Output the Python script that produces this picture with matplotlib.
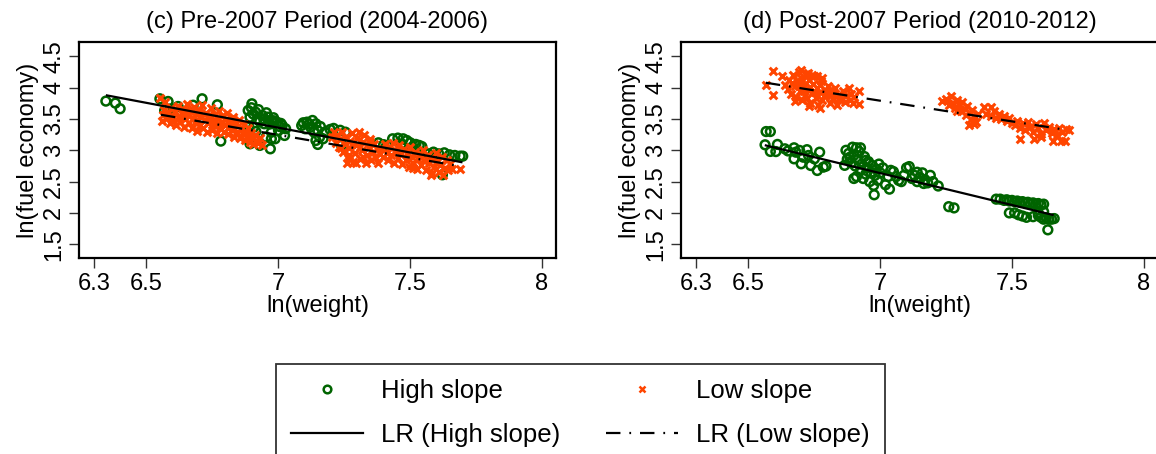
import matplotlib
matplotlib.use('Agg')
import matplotlib.pyplot as plt
from matplotlib.lines import Line2D

plt.rcParams['font.family'] = ['Liberation Sans', 'DejaVu Sans']

GREEN = '#006400'
ORANGE = '#FF4500'

# ---------------- data ----------------
x_ticks = [6.3, 6.5, 7, 7.5, 8]
x_tick_labels = ['6.3', '6.5', '7', '7.5', '8']
y_ticks = [1.5, 2, 2.5, 3, 3.5, 4, 4.5]
y_tick_labels = ['1.5', '2', '2.5', '3', '3.5', '4', '4.5']

titles = ['(c) Pre-2007 Period (2004-2006)', '(d) Post-2007 Period (2010-2012)']
x_label = 'ln(weight)'
y_label = 'ln(fuel economy)'
legend_labels = ['High slope', 'LR (High slope)', 'Low slope', 'LR (Low slope)']

# Pre-2007, high slope (green circles)
pre_high = [
    (6.346, 3.786), (6.382, 3.754), (6.400, 3.664),
    (6.551, 3.823), (6.582, 3.780), (6.569, 3.637), (6.590, 3.660), (6.620, 3.700),
    (6.677, 3.720), (6.711, 3.823), (6.769, 3.727), (6.782, 3.147),
    (6.900, 3.743), (6.886, 3.637), (6.914, 3.610), (6.893, 3.530), (6.920, 3.500),
    (6.940, 3.557), (6.961, 3.530), (6.974, 3.477), (6.995, 3.450), (7.015, 3.397),
    (7.028, 3.344), (6.947, 3.424), (6.907, 3.370), (6.889, 3.370), (6.930, 3.460),
    (6.955, 3.600), (6.905, 3.580), (6.982, 3.520), (6.968, 3.420), (7.005, 3.380),
    (6.974, 3.290), (7.001, 3.317), (7.024, 3.237), (6.988, 3.184), (6.974, 3.184),
    (6.893, 3.104), (6.930, 3.078), (6.970, 3.024), (6.954, 3.210), (6.915, 3.300),
    (6.898, 3.680), (6.925, 3.650), (6.945, 3.500), (6.985, 3.470), (7.010, 3.430),
    (7.089, 3.397), (7.109, 3.450), (7.130, 3.477), (7.143, 3.424), (7.123, 3.370),
    (7.103, 3.344), (7.150, 3.317), (7.136, 3.290), (7.157, 3.210), (7.143, 3.157),
    (7.150, 3.094), (7.170, 3.184), (7.197, 3.333), (7.177, 3.290), (7.118, 3.420),
    (7.095, 3.440), (7.160, 3.380),
    (7.210, 3.350), (7.235, 3.320), (7.255, 3.290), (7.240, 3.080), (7.262, 3.100),
    (7.380, 3.120), (7.400, 3.090), (7.414, 3.078),
    (7.434, 3.184), (7.454, 3.195), (7.474, 3.184), (7.488, 3.157), (7.501, 3.120),
    (7.522, 3.094), (7.535, 3.078), (7.468, 3.104), (7.447, 3.078), (7.508, 3.050),
    (7.545, 3.060),
    (7.570, 2.944), (7.589, 2.971), (7.609, 2.944), (7.630, 2.960), (7.650, 2.928),
    (7.670, 2.918), (7.690, 2.907), (7.700, 2.907), (7.623, 2.609),
]

# Pre-2007, low slope (orange crosses)
pre_low = [
    (6.552, 3.84), (6.558, 3.47), (6.563, 3.56), (6.567, 3.64), (6.571, 3.77), (6.578, 3.51),
    (6.583, 3.60), (6.589, 3.43), (6.594, 3.68), (6.598, 3.55), (6.604, 3.47), (6.609, 3.62),
    (6.613, 3.40), (6.618, 3.71), (6.624, 3.53), (6.629, 3.45), (6.633, 3.59), (6.638, 3.66),
    (6.642, 3.38), (6.647, 3.50), (6.652, 3.74), (6.657, 3.57), (6.661, 3.43), (6.666, 3.63),
    (6.671, 3.35), (6.675, 3.52), (6.680, 3.69), (6.684, 3.46), (6.689, 3.58), (6.693, 3.31),
    (6.698, 3.64), (6.703, 3.41), (6.707, 3.53), (6.712, 3.72), (6.716, 3.36), (6.721, 3.49),
    (6.725, 3.60), (6.730, 3.29), (6.734, 3.44), (6.739, 3.56), (6.743, 3.67), (6.748, 3.33),
    (6.752, 3.48), (6.757, 3.40), (6.761, 3.58), (6.766, 3.27), (6.770, 3.52), (6.775, 3.63),
    (6.779, 3.36), (6.784, 3.45), (6.788, 3.55), (6.793, 3.30), (6.797, 3.41), (6.802, 3.50),
    (6.806, 3.59), (6.811, 3.26), (6.815, 3.38), (6.820, 3.47), (6.824, 3.33), (6.829, 3.54),
    (6.833, 3.22), (6.838, 3.43), (6.842, 3.30), (6.847, 3.39), (6.851, 3.49), (6.856, 3.19),
    (6.860, 3.34), (6.865, 3.26), (6.869, 3.42), (6.874, 3.16), (6.878, 3.30), (6.883, 3.22),
    (6.887, 3.36), (6.892, 3.13), (6.896, 3.27), (6.901, 3.19), (6.905, 3.10), (6.912, 3.24),
    (6.918, 3.15), (6.925, 3.11), (6.932, 3.20), (6.938, 3.09),
    (6.600, 3.52), (6.645, 3.56), (6.690, 3.49), (6.735, 3.51), (6.780, 3.41), (6.825, 3.38),
    (6.700, 3.59), (6.760, 3.46), (6.810, 3.44), (6.655, 3.65),
    (7.205, 3.22), (7.212, 3.30), (7.218, 3.12), (7.224, 3.25), (7.230, 3.05), (7.236, 3.18),
    (7.241, 3.29), (7.247, 2.97), (7.252, 3.10), (7.258, 3.22), (7.263, 2.88), (7.268, 3.03),
    (7.274, 3.15), (7.279, 3.27), (7.284, 2.82), (7.290, 2.95), (7.295, 3.08), (7.300, 3.20),
    (7.305, 3.30), (7.311, 2.86), (7.316, 3.00), (7.321, 3.13), (7.327, 3.24), (7.332, 2.80),
    (7.337, 2.93), (7.343, 3.06), (7.348, 3.18), (7.353, 2.84), (7.359, 2.98), (7.364, 3.10),
    (7.369, 2.89), (7.375, 3.02), (7.380, 2.79), (7.386, 2.94), (7.262, 2.79), (7.296, 2.80),
    (7.240, 3.04), (7.280, 3.10), (7.320, 2.90), (7.350, 3.14), (7.270, 2.92), (7.310, 3.05),
    (7.392, 3.02), (7.398, 2.90), (7.405, 3.10), (7.411, 2.96), (7.417, 2.84), (7.423, 3.05),
    (7.429, 2.92), (7.435, 3.12), (7.441, 2.80), (7.447, 2.99), (7.453, 2.87), (7.459, 3.08),
    (7.465, 2.94), (7.471, 2.78), (7.477, 3.02), (7.483, 2.85), (7.489, 2.96), (7.495, 2.73),
    (7.501, 3.05), (7.507, 2.89), (7.513, 2.80), (7.519, 2.98), (7.525, 2.70), (7.531, 2.86),
    (7.537, 2.94), (7.543, 2.76), (7.549, 3.00), (7.555, 2.83), (7.561, 2.68), (7.567, 2.92),
    (7.573, 2.79), (7.579, 2.88), (7.585, 2.64), (7.591, 2.74), (7.597, 2.95), (7.603, 2.83),
    (7.609, 2.66), (7.615, 2.77), (7.621, 2.90), (7.627, 2.61), (7.633, 2.72), (7.639, 2.84),
    (7.645, 2.68), (7.651, 2.78), (7.510, 2.715), (7.578, 2.60), (7.661, 2.694), (7.688, 2.694),
]

# Post-2007, high slope (green circles)
post_high = [
    (6.567, 3.30), (6.583, 3.30),
    (6.563, 3.088), (6.583, 2.982), (6.610, 3.094), (6.604, 2.980), (6.638, 3.024),
    (6.673, 3.040), (6.680, 2.970), (6.673, 2.864), (6.700, 2.785), (6.722, 3.010),
    (6.728, 2.918), (6.750, 2.864), (6.770, 2.970), (6.761, 2.678), (6.784, 2.731),
    (6.794, 2.747), (6.736, 2.758), (6.708, 2.890), (6.694, 2.998), (6.650, 2.990),
    (6.870, 3.000), (6.880, 2.950), (6.875, 2.860), (6.890, 2.800), (6.895, 3.050),
    (6.900, 2.920), (6.905, 2.750), (6.910, 2.580), (6.915, 2.850), (6.920, 2.980),
    (6.925, 2.680), (6.930, 2.780), (6.935, 2.550), (6.940, 2.900), (6.945, 2.620),
    (6.950, 2.720), (6.955, 2.820), (6.960, 2.500), (6.965, 2.650), (6.970, 2.760),
    (6.975, 2.440), (6.980, 2.600), (6.985, 2.700), (6.990, 2.520), (6.995, 2.780),
    (7.000, 2.640), (7.010, 2.720), (7.020, 2.450), (7.030, 2.580), (7.035, 2.380),
    (7.040, 2.680), (6.977, 2.290), (6.900, 2.550), (6.865, 2.760), (6.910, 3.040),
    (6.925, 3.040), (6.885, 2.890), (6.945, 2.840),
    (7.050, 2.660), (7.060, 2.580), (7.070, 2.520), (7.090, 2.600), (7.100, 2.720),
    (7.110, 2.740), (7.120, 2.550), (7.130, 2.600), (7.140, 2.500), (7.150, 2.570),
    (7.160, 2.640), (7.170, 2.530), (7.180, 2.480), (7.190, 2.600), (7.200, 2.500),
    (7.220, 2.430), (7.080, 2.500), (7.140, 2.650), (7.165, 2.470),
    (7.260, 2.100), (7.280, 2.080),
    (7.440, 2.220), (7.455, 2.220), (7.470, 2.200), (7.480, 2.210), (7.490, 2.190),
    (7.500, 2.200), (7.510, 2.180), (7.520, 2.190), (7.530, 2.170), (7.540, 2.180),
    (7.550, 2.160), (7.560, 2.170), (7.570, 2.150), (7.580, 2.160), (7.590, 2.140),
    (7.600, 2.150), (7.610, 2.130), (7.620, 2.140),
    (7.490, 2.000), (7.510, 2.000), (7.525, 1.970), (7.540, 1.950), (7.555, 1.930),
    (7.580, 1.940), (7.600, 1.960), (7.610, 1.930), (7.620, 1.900), (7.630, 1.920),
    (7.640, 1.900), (7.650, 1.900), (7.660, 1.910), (7.636, 1.730), (7.600, 2.000),
    (7.620, 2.020),
]

# Post-2007, low slope (orange crosses)
post_low = [
    (6.594, 4.271), (6.629, 4.180), (6.566, 4.047), (6.594, 3.877), (6.675, 3.780),
    (6.919, 3.940), (6.919, 3.743),
    (6.640, 4.05), (6.650, 3.98), (6.655, 4.12), (6.660, 3.90), (6.670, 4.20), (6.675, 4.02),
    (6.680, 3.85), (6.685, 4.10), (6.690, 4.25), (6.695, 3.95), (6.700, 4.16), (6.705, 3.80),
    (6.710, 4.05), (6.715, 3.88), (6.720, 4.22), (6.725, 3.98), (6.730, 4.12), (6.735, 3.75),
    (6.740, 3.92), (6.745, 4.06), (6.750, 4.18), (6.755, 3.84), (6.760, 4.00), (6.765, 3.72),
    (6.770, 3.93), (6.775, 4.10), (6.780, 3.80), (6.790, 3.97), (6.795, 3.88), (6.800, 4.03),
    (6.810, 3.76), (6.815, 3.92), (6.820, 3.84), (6.830, 3.99), (6.835, 3.73), (6.840, 3.88),
    (6.850, 3.80), (6.860, 3.95), (6.865, 3.77), (6.870, 3.86), (6.880, 3.99), (6.885, 3.80),
    (6.890, 3.90), (6.895, 3.76), (6.900, 3.85), (6.700, 4.28), (6.725, 4.23), (6.740, 4.20),
    (6.780, 4.15), (6.760, 4.19), (6.770, 3.68), (6.730, 3.70),
    (6.665, 4.08), (6.690, 4.02), (6.712, 3.95), (6.735, 4.01), (6.752, 3.93), (6.772, 4.04),
    (6.705, 4.10), (6.722, 3.84), (6.788, 3.86), (6.805, 3.95), (6.825, 3.90), (6.845, 3.82),
    (7.235, 3.78), (7.250, 3.82), (7.260, 3.72), (7.270, 3.86), (7.275, 3.76), (7.285, 3.68),
    (7.290, 3.80), (7.300, 3.72), (7.305, 3.62), (7.310, 3.77), (7.320, 3.66), (7.325, 3.56),
    (7.330, 3.70), (7.340, 3.60), (7.345, 3.50), (7.350, 3.64), (7.360, 3.54), (7.365, 3.46),
    (7.370, 3.58), (7.335, 3.40), (7.355, 3.42), (7.290, 3.63), (7.393, 3.69), (7.420, 3.69),
    (7.400, 3.58), (7.420, 3.55), (7.430, 3.62), (7.440, 3.52), (7.450, 3.58), (7.460, 3.50),
    (7.470, 3.55), (7.480, 3.47), (7.490, 3.52), (7.500, 3.44),
    (7.510, 3.40), (7.520, 3.47), (7.530, 3.36), (7.540, 3.43), (7.550, 3.32), (7.560, 3.46),
    (7.570, 3.38), (7.580, 3.30), (7.590, 3.42), (7.600, 3.35), (7.610, 3.26), (7.620, 3.44),
    (7.630, 3.32), (7.640, 3.38), (7.650, 3.28), (7.660, 3.34), (7.670, 3.24), (7.680, 3.36),
    (7.690, 3.30), (7.705, 3.34), (7.715, 3.32),
    (7.530, 3.175), (7.585, 3.180), (7.610, 3.220), (7.655, 3.150), (7.685, 3.150),
    (7.700, 3.150),
]

# Linear-regression lines (x endpoints, y endpoints)
pre_lr_high_x, pre_lr_high_y = [6.350, 7.695], [3.877, 2.811]
pre_lr_low_x, pre_lr_low_y = [6.555, 7.674], [3.568, 2.758]
post_lr_high_x, post_lr_high_y = [6.566, 7.654], [3.078, 1.969]
post_lr_low_x, post_lr_low_y = [6.566, 7.695], [4.079, 3.333]

# ---------------- drawing ----------------
W, H = 1156, 454
fig = plt.figure(figsize=(W / 100, H / 100), dpi=100)

FS = 17
DASHDOT = (6.5, 4.0, 0.8, 4.0)
LW = 1.6

def px_rect(x0, y0, x1, y1):
    return [x0 / W, 1 - y1 / H, (x1 - x0) / W, (y1 - y0) / H]

axes = [fig.add_axes(px_rect(79, 42, 556, 258)),
        fig.add_axes(px_rect(681, 42, 1158, 258))]

panels = [
    (pre_high, pre_low, (pre_lr_high_x, pre_lr_high_y), (pre_lr_low_x, pre_lr_low_y)),
    (post_high, post_low, (post_lr_high_x, post_lr_high_y), (post_lr_low_x, post_lr_low_y)),
]

for ax, title, (hi, lo, lrh, lrl) in zip(axes, titles, panels):
    ax.scatter([p[0] for p in hi], [p[1] for p in hi], s=40, facecolors='none',
               edgecolors=GREEN, linewidths=1.8, zorder=2)
    ax.scatter([p[0] for p in lo], [p[1] for p in lo], s=30, marker='x',
               color=ORANGE, linewidths=2.2, zorder=3)
    ax.plot(lrh[0], lrh[1], color='black', lw=LW, zorder=4)
    ax.plot(lrl[0], lrl[1], color='black', lw=LW, dashes=DASHDOT, zorder=4)

    ax.set_xlim(6.244, 8.054)
    ax.set_ylim(1.28, 4.73)
    ax.set_xticks(x_ticks)
    ax.set_xticklabels(x_tick_labels, fontsize=FS)
    ax.set_yticks(y_ticks)
    ax.set_yticklabels(y_tick_labels, fontsize=FS, rotation=90, va='center')
    ax.tick_params(axis='both', direction='out', length=7, width=1, color='#333333')
    ax.tick_params(axis='x', pad=4)
    ax.tick_params(axis='y', pad=3)
    for sp in ax.spines.values():
        sp.set_linewidth(1.6)
        sp.set_color('black')
    ax.set_title(title, fontsize=FS, pad=10)
    ax.set_xlabel(x_label, fontsize=FS, labelpad=0)
    ax.set_ylabel(y_label, fontsize=FS, labelpad=3)

handles = [
    Line2D([], [], linestyle='none', marker='o', markersize=5.5, markerfacecolor='none',
           markeredgecolor=GREEN, markeredgewidth=1.8),
    Line2D([], [], color='black', lw=LW),
    Line2D([], [], linestyle='none', marker='x', markersize=5, color=ORANGE,
           markeredgewidth=1.8),
    Line2D([], [], color='black', lw=LW, dashes=DASHDOT),
]
leg = fig.legend(handles, legend_labels, ncol=2, loc='upper left',
                 bbox_to_anchor=(276 / W, 1 - 364 / H), borderaxespad=0,
                 fontsize=18.5, frameon=True, fancybox=False, edgecolor='black',
                 borderpad=0.58, handlelength=2.8, handletextpad=0.7,
                 columnspacing=1.8, labelspacing=0.78)
leg.get_frame().set_linewidth(1.3)

fig.savefig('out.png', dpi=100)
